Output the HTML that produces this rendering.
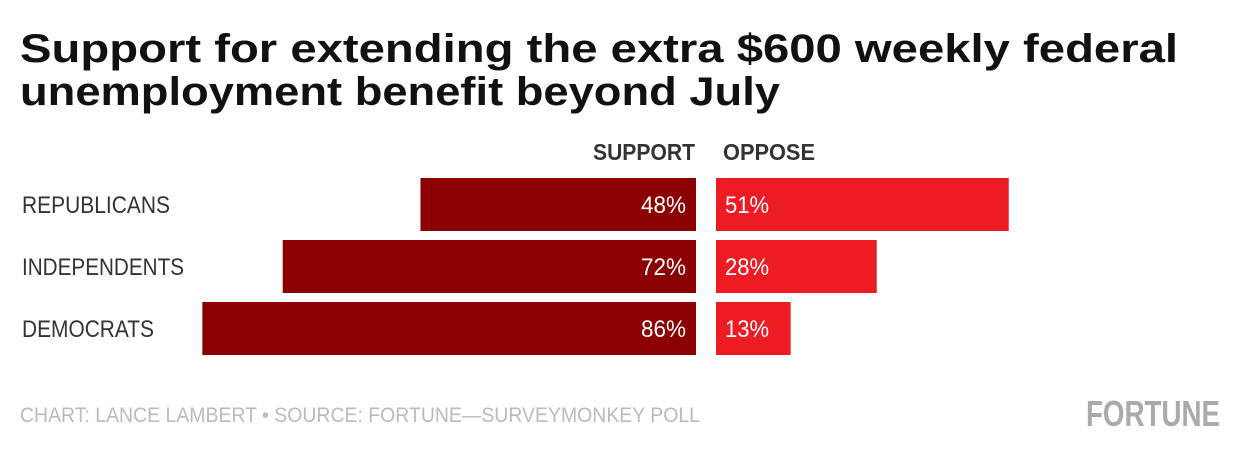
<!DOCTYPE html>
<html><head><meta charset="utf-8"><style>
html,body{margin:0;padding:0;background:#fff;width:1240px;height:456px;overflow:hidden}
text{font-family:"Liberation Sans Narrow","Liberation Sans",sans-serif}
</style></head><body>
<svg id="chart" width="1240" height="456" viewBox="0 0 1240 456" xmlns="http://www.w3.org/2000/svg">
<text x="20" y="62" font-size="40" font-weight="bold" fill="#111" textLength="1158" lengthAdjust="spacingAndGlyphs" style="font-family:'Liberation Sans',sans-serif">Support for extending the extra $600 weekly federal</text>
<text x="20" y="105" font-size="40" font-weight="bold" fill="#111" textLength="760" lengthAdjust="spacingAndGlyphs" style="font-family:'Liberation Sans',sans-serif">unemployment benefit beyond July</text>
<text x="695" y="160" font-size="23" font-weight="bold" fill="#333" text-anchor="end" textLength="102" lengthAdjust="spacingAndGlyphs">SUPPORT</text>
<text x="723" y="160" font-size="23" font-weight="bold" fill="#333" textLength="92" lengthAdjust="spacingAndGlyphs">OPPOSE</text>
<g id="bars"></g>
<text x="20" y="422" font-size="21" fill="#bbb" textLength="680" lengthAdjust="spacingAndGlyphs">CHART: LANCE LAMBERT • SOURCE: FORTUNE—SURVEYMONKEY POLL</text>
<text x="1220" y="426" font-size="36" font-weight="bold" fill="#aaa" text-anchor="end" textLength="134" lengthAdjust="spacingAndGlyphs">FORTUNE</text>
</svg>
<script>
const categories = ["REPUBLICANS","INDEPENDENTS","DEMOCRATS"];
const supportValues = [48,72,86];
const opposeValues = [51,28,13];
const labelWidths = [148,162,132];
const ns="http://www.w3.org/2000/svg";
const scale = v => v*5.74;
const rowY = i => 178 + i*62;
const g=document.getElementById('bars');
function mk(tag,attrs){const e=document.createElementNS(ns,tag);for(const k in attrs)e.setAttribute(k,attrs[k]);g.appendChild(e);return e;}
categories.forEach((c,i)=>{
  const y=rowY(i);
  const lab=mk('text',{x:22,y:y+35,'font-size':24,fill:'#333',textLength:labelWidths[i],lengthAdjust:'spacingAndGlyphs'});
  
  
  lab.textContent=c;
  const w=scale(supportValues[i]);
  const sb=mk('rect',{x:696-w,y:y,width:w,height:53,fill:'#8b0000'});
  
  
  const st=mk('text',{x:686,y:y+35,'font-size':24,fill:'#fff','text-anchor':'end',textLength:45,lengthAdjust:'spacingAndGlyphs'});
  
  
  st.textContent=supportValues[i]+'%';
  const w2=scale(opposeValues[i]);
  const ob=mk('rect',{x:716,y:y,width:w2,height:53,fill:'#ed1c24'});
  
  
  const ot=mk('text',{x:725,y:y+35,'font-size':24,fill:'#fff',textLength:44,lengthAdjust:'spacingAndGlyphs'});
  
  
  ot.textContent=opposeValues[i]+'%';
});
</script>
</body></html>
